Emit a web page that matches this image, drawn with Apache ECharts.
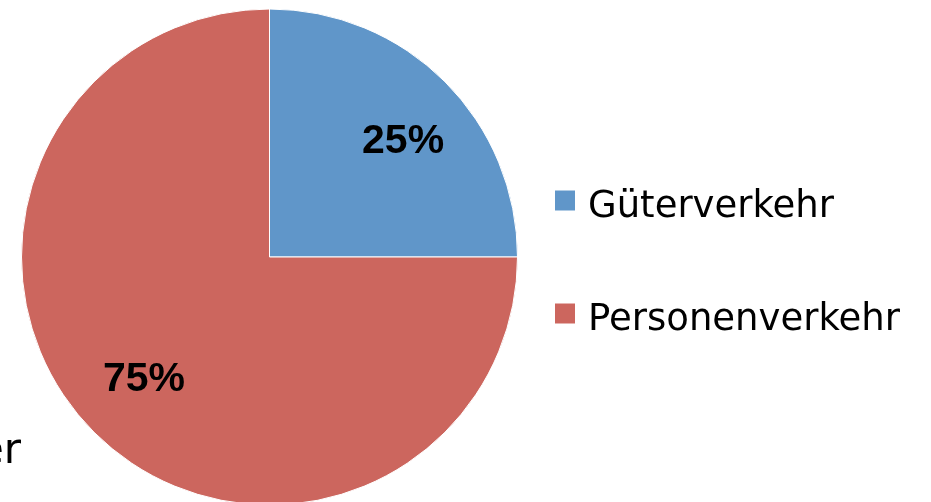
<!DOCTYPE html>
<html>
<head>
<meta charset="utf-8">
<script src="https://cdn.jsdelivr.net/npm/echarts@6/dist/echarts.min.js"></script>
<style>
  html, body { margin: 0; padding: 0; background: #fff; }
  #chart { width: 931px; height: 502px; }
</style>
</head>
<body>
<div id="chart"></div>
<script>
// Daten
const categories = ["Güterverkehr", "Personenverkehr"];
const shares = [25, 75];
const sliceColors = ["#6096C9", "#CC665E"];

const pieData = categories.map((name, i) => {
  return { name: name, value: shares[i], itemStyle: { color: sliceColors[i] } };
});

// kleine Verschiebung der Prozent-Beschriftungen (wie im Original)
const labelShift = [[7, 11], [1, -4]];

const chart = echarts.init(document.getElementById("chart"));
const option = {
  animation: false,
  legend: {
    orient: "vertical",
    left: 553,
    top: 175,
    padding: 0,
    itemWidth: 22,
    itemHeight: 22,
    itemGap: 62,
    icon: "rect",
    selectedMode: false,
    data: categories,
    formatter: "{t|{name}}",
    textStyle: {
      padding: [0, 0, 0, 7],
      rich: {
        t: {
          fontFamily: "DejaVu Sans",
          fontSize: 37,
          color: "#000",
          lineHeight: 40,
          padding: [14, 0, 0, 0]
        }
      }
    }
  },
  graphic: [
    {
      // abgeschnittener Text unten links
      type: "text",
      right: 910,
      top: 431,
      style: {
        text: "er",
        font: "42px 'DejaVu Sans'",
        fill: "#000"
      }
    }
  ],
  series: [
    {
      // eigentliche Torte
      type: "pie",
      center: [269.5, 257],
      radius: [0, 248],
      startAngle: 90,
      clockwise: true,
      silent: true,
      label: { show: false },
      labelLine: { show: false },
      itemStyle: { borderColor: "#fff", borderWidth: 1 },
      data: pieData
    },
    {
      // nur Beschriftung (Prozentwerte)
      type: "pie",
      center: [269.5, 257],
      radius: [104, 248],
      startAngle: 90,
      clockwise: true,
      silent: true,
      legendHoverLink: false,
      itemStyle: { color: "rgba(0,0,0,0)" },
      label: {
        show: true,
        position: "inside",
        formatter: "{c}%",
        fontFamily: "Liberation Sans",
        fontWeight: "bold",
        fontSize: 41,
        color: "#000"
      },
      labelLayout: (params) => ({
        dx: labelShift[params.dataIndex][0],
        dy: labelShift[params.dataIndex][1]
      }),
      labelLine: { show: false },
      data: categories.map((name, i) => ({ name: "_" + name, value: shares[i] }))
    }
  ]
};
chart.setOption(option);
</script>
</body>
</html>
